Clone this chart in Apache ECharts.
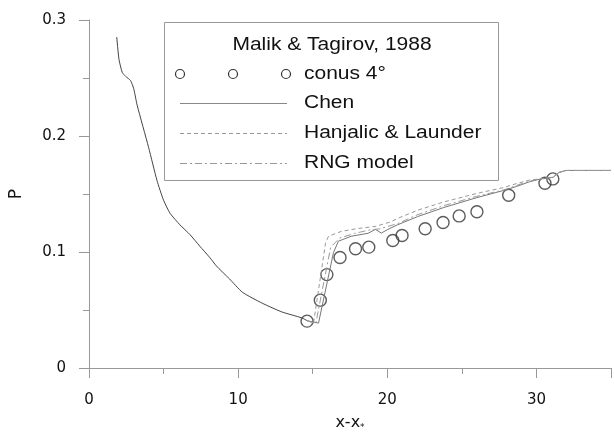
<!DOCTYPE html>
<html>
<head>
<meta charset="utf-8">
<script src="https://cdn.jsdelivr.net/npm/echarts@6/dist/echarts.min.js"></script>
<style>
    html, body { margin: 0; padding: 0; background: #fff; }
    #chart { width: 614px; height: 437px; }
</style>
</head>
<body>
<div id="chart"></div>
<script>
    // shared part of the three model curves (before the step)
    var commonX = [1.86, 2.01, 2.23, 2.46, 2.79, 3.0, 3.23, 4.0, 4.56, 5.0, 5.44, 6.1, 6.77, 7.43, 8.1, 8.54, 9.42, 10.29, 11.61, 12.94, 14.27, 14.62];
    var commonY = [0.2853, 0.2661, 0.2548, 0.2514, 0.2477, 0.2407, 0.2265, 0.19, 0.1616, 0.1446, 0.1333, 0.1234, 0.115, 0.105, 0.0952, 0.088, 0.0768, 0.0653, 0.0559, 0.0483, 0.0432, 0.0408];

    // Chen
    var chenX = [14.62, 15.39, 16.39, 16.72, 17.58, 18.71, 19.2, 19.6, 20.04, 20.7, 22.03, 23.8, 26.01, 27.78, 28.67, 29.53, 30.19, 31.12, 31.52, 31.98, 35];
    var chenY = [0.0408, 0.0387, 0.0994, 0.1093, 0.1136, 0.1161, 0.1195, 0.1163, 0.1195, 0.1235, 0.1305, 0.1384, 0.1469, 0.153, 0.1565, 0.1605, 0.1627, 0.1644, 0.1686, 0.1703, 0.1703];

    // Hanjalic & Launder
    var hlX = [14.62, 15.06, 15.86, 16.06, 16.92, 18.05, 19.18, 20.24, 20.7, 22.03, 23.8, 26.01, 27.78, 28.67, 29.53, 30.19, 31.12, 31.52, 31.98, 35];
    var hlY = [0.0408, 0.039, 0.1076, 0.1136, 0.1178, 0.1203, 0.122, 0.126, 0.129, 0.136, 0.1432, 0.1505, 0.1555, 0.159, 0.162, 0.163, 0.1645, 0.1686, 0.1703, 0.1703];

    // RNG model
    var rngX = [14.62, 15.2, 16.2, 16.8, 17.8, 18.8, 19.5, 20.7, 22.0, 23.8, 26.0, 27.8, 28.7, 29.5, 30.2, 31.1, 31.5, 32.0, 35];
    var rngY = [0.0408, 0.038, 0.104, 0.112, 0.116, 0.119, 0.12, 0.1245, 0.132, 0.14, 0.148, 0.1535, 0.1575, 0.161, 0.163, 0.1645, 0.1686, 0.1703, 0.1703];

    // Malik & Tagirov, 1988 - conus 4°
    var expX = [14.62, 15.51, 15.95, 16.83, 17.87, 18.76, 20.37, 20.99, 22.54, 23.74, 24.82, 26.01, 28.14, 30.57, 31.10];
    var expY = [0.0404, 0.0585, 0.0805, 0.0952, 0.1028, 0.1042, 0.1099, 0.1142, 0.1201, 0.1254, 0.1311, 0.1347, 0.1489, 0.1593, 0.163];

    var xTicks = [0, 10, 20, 30];
    var yTicks = [0, 0.1, 0.2, 0.3];

    function pairs(xs, ys) {
        var out = [];
        for (var i = 0; i < xs.length; i++) {
            out.push([xs[i], ys[i]]);
        }
        return out;
    }

    var axisFont = 'DejaVu Sans';
    var lgFont = 'Liberation Sans';
    var dashDot = [7, 3, 2, 3];
    var axisColor = '#999';

    // legend box drawn by hand (layout of the original)
    function legendText(txt, x, y, align) {
        return {
            type: 'text', x: x, y: y, scaleX: 1.2, z: 10,
            style: {text: txt, font: '17.5px ' + lgFont, fill: '#111', align: align || 'left', verticalAlign: 'middle'}
        };
    }
    function legendLine(y, type, color) {
        return {
            type: 'line', z: 10,
            shape: {x1: 180, y1: y, x2: 287, y2: y},
            style: {stroke: color, lineWidth: 1, lineDash: type}
        };
    }
    function legendCircle(x) {
        return {
            type: 'circle', z: 10,
            shape: {cx: x, cy: 74, r: 4.5},
            style: {fill: 'none', stroke: '#333', lineWidth: 1.2}
        };
    }

    var chart = echarts.init(document.getElementById('chart'));
    var option = {
        animation: false,
        backgroundColor: '#fff',
        grid: {left: 87, right: 0, top: 20, bottom: 63, containLabel: false},
        xAxis: {
            type: 'value', min: 0, max: 35, interval: 10,
            name: '{a|x-x}{s|*}', nameLocation: 'middle', nameGap: 46,
            nameTextStyle: {
                rich: {
                    a: {fontFamily: axisFont, fontSize: 16, color: '#111'},
                    s: {fontFamily: axisFont, fontSize: 9, color: '#111', padding: [9, 0, 0, 0]}
                }
            },
            axisLine: {show: true, onZero: false, lineStyle: {color: axisColor, width: 1}},
            axisTick: {show: true, inside: false, length: 10, lineStyle: {color: axisColor, width: 1}},
            minorTick: {show: true, splitNumber: 2, length: 6, lineStyle: {color: axisColor, width: 1}},
            axisLabel: {
                fontFamily: axisFont, fontSize: 15, color: '#111', margin: 25,
                formatter: function (v) { return xTicks.indexOf(v) >= 0 ? String(v) : ''; }
            },
            splitLine: {show: false}
        },
        yAxis: {
            type: 'value', min: 0, max: 0.3, interval: 0.1,
            name: 'P', nameLocation: 'middle', nameGap: 64,
            nameTextStyle: {fontFamily: axisFont, fontSize: 17, color: '#111'},
            axisLine: {show: true, onZero: false, lineStyle: {color: axisColor, width: 1}},
            axisTick: {show: true, inside: false, length: 10, lineStyle: {color: axisColor, width: 1}},
            minorTick: {show: true, splitNumber: 2, length: 6, lineStyle: {color: axisColor, width: 1}},
            axisLabel: {
                fontFamily: axisFont, fontSize: 15, color: '#111', margin: 23,
                formatter: function (v) {
                    for (var i = 0; i < yTicks.length; i++) {
                        if (Math.abs(v - yTicks[i]) < 1e-9) return i === 0 ? '0' : yTicks[i].toFixed(1);
                    }
                    return '';
                }
            },
            splitLine: {show: false}
        },
        graphic: [
            {
                type: 'rect', z: 9,
                shape: {x: 164.5, y: 22.5, width: 334, height: 158},
                style: {fill: '#fff', stroke: '#999', lineWidth: 1}
            },
            legendText('Malik & Tagirov, 1988', 332, 45, 'center'),
            legendCircle(180),
            legendCircle(233),
            legendCircle(286),
            legendText('conus 4°', 304, 74),
            legendLine(103.5, null, '#888'),
            legendText('Chen', 304, 103),
            legendLine(133.5, [4, 3], '#999'),
            legendText('Hanjalic & Launder', 304, 133),
            legendLine(163.5, dashDot, '#999'),
            legendText('RNG model', 304, 163)
        ],
        series: [
            {
                name: 'common', type: 'line', data: pairs(commonX, commonY),
                showSymbol: false, smooth: 0.2,
                lineStyle: {color: '#444', width: 1}
            },
            {
                name: 'Chen', type: 'line', data: pairs(chenX, chenY),
                showSymbol: false,
                lineStyle: {color: '#777', width: 1}
            },
            {
                name: 'Hanjalic & Launder', type: 'line', data: pairs(hlX, hlY),
                showSymbol: false,
                lineStyle: {color: '#999', width: 1, type: [4, 3]}
            },
            {
                name: 'RNG model', type: 'line', data: pairs(rngX, rngY),
                showSymbol: false,
                lineStyle: {color: '#999', width: 1, type: dashDot}
            },
            {
                name: 'conus 4°', type: 'scatter', data: pairs(expX, expY),
                symbol: 'circle', symbolSize: 12,
                itemStyle: {color: 'rgba(0,0,0,0)', borderColor: '#333', borderWidth: 1.4}
            }
        ]
    };
    chart.setOption(option);
</script>
</body>
</html>
